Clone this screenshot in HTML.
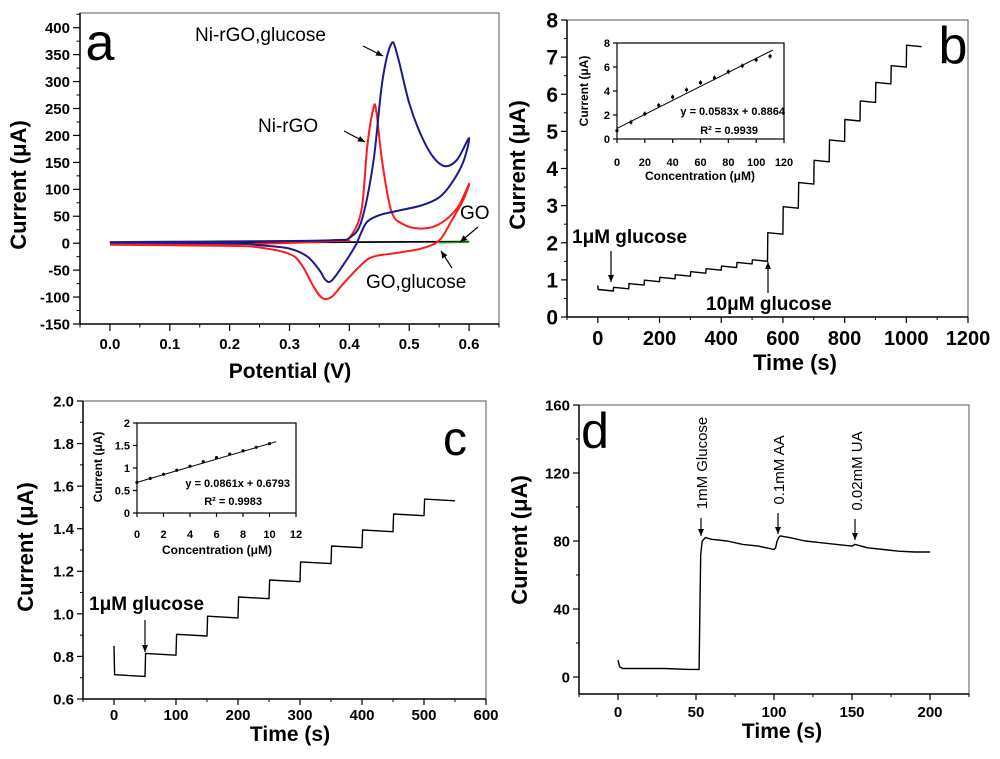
<!DOCTYPE html>
<html><head><meta charset="utf-8"><style>
html,body{margin:0;padding:0;background:#fff}
svg{display:block;font-family:"Liberation Sans",Arial,sans-serif}
</style></head><body>
<svg id="fig" width="1000" height="759" viewBox="0 0 1000 759" xmlns="http://www.w3.org/2000/svg"></svg>
<script>
// ---------- Panel a data (CV) ----------
const aBlueV  = [0,0.15,0.3,0.38,0.40,0.42,0.44,0.455,0.47,0.48,0.5,0.52,0.54,0.56,0.58,0.6,0.59,0.57,0.55,0.52,0.48,0.45,0.43,0.42,0.41,0.39,0.37,0.36,0.35,0.33,0.3,0.25,0.2,0];
const aBlueI  = [2,3,4,6,10,40,150,300,370,350,260,200,160,143,155,195,150,110,85,70,60,52,40,20,-5,-40,-70,-68,-50,-25,-10,-4,0,1];
const aRedV   = [0,0.2,0.38,0.40,0.42,0.43,0.44,0.445,0.455,0.47,0.49,0.52,0.55,0.58,0.6,0.59,0.57,0.55,0.52,0.48,0.44,0.42,0.39,0.37,0.355,0.34,0.32,0.3,0.25,0.2,0];
const aRedI   = [-3,-2,4,10,60,180,250,245,150,60,35,27,35,65,110,80,40,5,-10,-18,-25,-40,-75,-100,-102,-80,-40,-20,-8,-5,-3];
const aGOV    = [0,0.3,0.6];
const aGOI    = [1,1.5,3];
const aGOgV   = [0.55,0.6];
const aGOgI   = [1,2];
const aYTicks = [400,350,300,250,200,150,100,50,0,-50,-100,-150];
const aXTicks = [0.0,0.1,0.2,0.3,0.4,0.5,0.6];
// ---------- Panel b data ----------
const bStepT   = [0,50,100,150,200,250,300,350,400,450,500,550,600,650,700,750,800,850,900,950,1000];
const bStepI   = [0.72,0.78,0.88,0.97,1.05,1.12,1.2,1.28,1.35,1.45,1.52,2.25,2.95,3.6,4.2,4.75,5.3,5.8,6.3,6.75,7.3];
const bEndT    = 1050;
const bStartI  = 0.85;
const bYTicks  = [0,1,2,3,4,5,6,7,8];
const bXTicks  = [0,200,400,600,800,1000,1200];
const bInConc  = [0,10,20,30,40,50,60,70,80,90,100,110];
const bInCur   = [0.7,1.4,2.1,2.8,3.5,4.1,4.7,5.1,5.6,6.1,6.6,6.9];
const bFit     = [0.0583,0.8864];
const bInYT    = [0,2,4,6,8];
const bInXT    = [0,20,40,60,80,100,120];
// ---------- Panel c data ----------
const cStepT   = [0,50,100,150,200,250,300,350,400,450,500];
const cStepI   = [0.71,0.81,0.90,0.985,1.075,1.155,1.24,1.315,1.39,1.465,1.535];
const cEndT    = 550;
const cStartI  = 0.85;
const cYTicks  = [0.6,0.8,1.0,1.2,1.4,1.6,1.8,2.0];
const cXTicks  = [0,100,200,300,400,500,600];
const cInConc  = [0,1,2,3,4,5,6,7,8,9,10];
const cInCur   = [0.68,0.77,0.86,0.95,1.04,1.14,1.23,1.31,1.38,1.46,1.54];
const cFit     = [0.0861,0.6793];
const cInYT    = [0,0.5,1,1.5,2];
const cInYL    = ["0","0.5","1","1.5","2"];
const cInXT    = [0,2,4,6,8,10,12];
// ---------- Panel d data ----------
const dT = [0,1,3,10,30,45,52,52.5,53,54,56,60,70,80,90,100,101,102,103,104,110,120,130,140,150,152,160,170,180,190,200];
const dI = [10,6,5,5,5,4.5,4.5,40,72,80,82,81,80,78,77,75,76,80,82,83,82,80,79,78,77,78,76,75,74,73.5,73.5];
const dYTicks = [0,40,80,120,160];
const dXTicks = [0,50,100,150,200];

const NS="http://www.w3.org/2000/svg";
const svg=document.getElementById('fig');
function mk(tag,attrs,name,parent){
  const e=document.createElementNS(NS,tag);
  for(const k in attrs)e.setAttribute(k,attrs[k]);
  
  
  (parent||svg).appendChild(e);return e;
}
function txt(x,y,s,size,name,opt){
  opt=opt||{};
  const t=mk('text',{x:x,y:y,'font-size':size,'font-weight':opt.w||'bold','text-anchor':opt.a||'middle',fill:'#000'},name,opt.p);
  if(opt.rot)t.setAttribute('transform','rotate('+opt.rot+' '+x+' '+y+')');
  t.textContent=s;return t;
}
function scale(d0,d1,p0,p1){return v=>p0+(v-d0)*(p1-p0)/(d1-d0);}
function frame(L,T,R,B,name,sw){
  mk('rect',{x:L,y:T,width:R-L,height:B-T,fill:'none',stroke:'#555','stroke-width':1},name+'-frame');
  mk('line',{x1:L,y1:T,x2:L,y2:B,stroke:'#000','stroke-width':sw},name+'-y-axis');
  mk('line',{x1:L,y1:B,x2:R,y2:B,stroke:'#000','stroke-width':sw},name+'-x-axis');
}
function yTicks(sy,L,vals,labels,fs,name,minor,len){
  vals.forEach((v,i)=>{
    mk('line',{x1:L-len,y1:sy(v),x2:L,y2:sy(v),stroke:'#000','stroke-width':1.2},name+'-y-tick');
    txt(L-len-3,sy(v)+fs*0.36,labels?labels[i]:String(v),fs,name+'-y-tick-label',{a:'end'});
  });
  (minor||[]).forEach(v=>mk('line',{x1:L-len/2,y1:sy(v),x2:L,y2:sy(v),stroke:'#000','stroke-width':1},name+'-y-minor-tick'));
}
function xTicks(sx,B,vals,labels,fs,ly,name,minor,len){
  vals.forEach((v,i)=>{
    mk('line',{x1:sx(v),y1:B,x2:sx(v),y2:B+len,stroke:'#000','stroke-width':1.2},name+'-x-tick');
    txt(sx(v),ly,labels?labels[i]:String(v),fs,name+'-x-tick-label');
  });
  (minor||[]).forEach(v=>mk('line',{x1:sx(v),y1:B,x2:sx(v),y2:B+len/2,stroke:'#000','stroke-width':1},name+'-x-minor-tick'));
}
function poly(xs,ys,sx,sy,color,w,name){
  const pts=xs.map((x,i)=>sx(x).toFixed(1)+','+sy(ys[i]).toFixed(1)).join(' ');
  return mk('polyline',{points:pts,fill:'none',stroke:color,'stroke-width':w,'stroke-linejoin':'round'},name);
}
function smooth(xs,ys,sx,sy,color,w,name){
  const P=xs.map((x,i)=>[sx(x),sy(ys[i])]);
  let d='M'+P[0][0].toFixed(1)+','+P[0][1].toFixed(1);
  for(let i=0;i<P.length-1;i++){
    const p0=P[Math.max(0,i-1)],p1=P[i],p2=P[i+1],p3=P[Math.min(P.length-1,i+2)];
    const c1=[p1[0]+(p2[0]-p0[0])/6,p1[1]+(p2[1]-p0[1])/6];
    const c2=[p2[0]-(p3[0]-p1[0])/6,p2[1]-(p3[1]-p1[1])/6];
    d+=' C'+c1.map(v=>v.toFixed(1)).join(',')+' '+c2.map(v=>v.toFixed(1)).join(',')+' '+p2[0].toFixed(1)+','+p2[1].toFixed(1);
  }
  return mk('path',{d:d,fill:'none',stroke:color,'stroke-width':w,'stroke-linejoin':'round'},name);
}
function stepPts(T,I,endT,start,dec){
  const xs=[T[0]],ys=[start];
  for(let i=0;i<T.length;i++){
    const t1=(i+1<T.length)?T[i+1]:endT;
    xs.push(T[i]+1);ys.push(I[i]+dec);
    xs.push(t1);ys.push(I[i]-dec);
  }
  return [xs,ys];
}
function arrow(x1,y1,x2,y2,name){
  mk('line',{x1:x1,y1:y1,x2:x2,y2:y2,stroke:'#000','stroke-width':1.2},name);
  const a=Math.atan2(y2-y1,x2-x1),h=7,w=3;
  const p=[[x2,y2],[x2-h*Math.cos(a)+w*Math.sin(a),y2-h*Math.sin(a)-w*Math.cos(a)],[x2-h*Math.cos(a)-w*Math.sin(a),y2-h*Math.sin(a)+w*Math.cos(a)]];
  mk('polygon',{points:p.map(q=>q.join(',')).join(' '),fill:'#000'},name+'-head');
}

// ===== Panel a =====
{
const L=80,T=13,R=499,B=324;
const sx=scale(-0.05,0.65,L,R), sy=scale(-150,400,B,27.7);
frame(L,T,R,B,'panel-a',1.5);
const minY=[];for(let v=-125;v<=425;v+=50)minY.push(v);
yTicks(sy,L,aYTicks,null,15,'panel-a',minY,7);
xTicks(sx,B,aXTicks,aXTicks.map(v=>v.toFixed(1)),15,349,'panel-a',[-0.05,0.05,0.15,0.25,0.35,0.45,0.55,0.65],7);
poly(aGOV,aGOI,sx,sy,'#000',1.8,'go-curve');
poly(aGOgV,aGOgI,sx,sy,'#1a9a1a',1.5,'go-glucose-curve');
smooth(aRedV,aRedI,sx,sy,'#ff1a1a',2,'ni-rgo-curve');
smooth(aBlueV,aBlueI,sx,sy,'#1a1a8c',2,'ni-rgo-glucose-curve');
txt(290,378,'Potential (V)',21,'panel-a-x-title');
txt(26,185,'Current (μA)',22,'panel-a-y-title',{rot:-90});
txt(100,60,'a',52,'panel-a-label',{w:'normal'});
txt(195,41,'Ni-rGO,glucose',19,'label-ni-rgo-glucose',{a:'start',w:'normal'});
arrow(363,46,383,56,'arrow-ni-rgo-glucose');
txt(258,132,'Ni-rGO',19,'label-ni-rgo',{a:'start',w:'normal'});
arrow(344,131,365,142,'arrow-ni-rgo');
txt(460,219,'GO',19,'label-go',{a:'start',w:'normal'});
arrow(478,227,460,242,'arrow-go');
txt(366,288,'GO,glucose',19,'label-go-glucose',{a:'start',w:'normal'});
arrow(452,268,441,251,'arrow-go-glucose');
}
// ===== Panel b =====
{
const L=567,T=20,R=968,B=317;
const sx=scale(-100,1200,L,R), sy=scale(0,8,B,T);
frame(L,T,R,B,'panel-b',1.5);
const mx=[];for(let v=-100;v<=1100;v+=200)mx.push(v);
const my=[];for(let v=0.5;v<8;v+=1)my.push(v);
yTicks(sy,L,bYTicks,null,21,'panel-b',my,6);
xTicks(sx,B,bXTicks,null,20,345,'panel-b',mx,6);
const [xs,ys]=stepPts(bStepT,bStepI,bEndT,bStartI,0.02);
poly(xs,ys,sx,sy,'#000',1.4,'panel-b-amperometric-curve');
txt(795,370,'Time (s)',22,'panel-b-x-title');
txt(525,165,'Current (μA)',22,'panel-b-y-title',{rot:-90});
txt(953,63,'b',52,'panel-b-label',{w:'normal'});
txt(572,243,'1μM glucose',19,'panel-b-1um-label',{a:'start'});
arrow(611,251,611,282,'panel-b-1um-arrow');
txt(706,310,'10μM glucose',19,'panel-b-10um-label',{a:'start'});
arrow(768,293,768,262,'panel-b-10um-arrow');
// inset
const iL=617,iT=43,iR=784,iB=139;
const ix=scale(0,120,iL,iR), iy=scale(0,8,iB,iT);
mk('rect',{x:iL,y:iT,width:iR-iL,height:iB-iT,fill:'#fff',stroke:'#000','stroke-width':1.2},'panel-b-inset-frame');
yTicks(iy,iL,bInYT,null,11,'panel-b-inset',[],4);
xTicks(ix,iB,bInXT,null,11,166,'panel-b-inset',[],4);
poly([0,112],[bFit[1],bFit[0]*112+bFit[1]],ix,iy,'#000',1,'panel-b-fit-line');
bInConc.forEach((c,i)=>{
  mk('circle',{cx:ix(c),cy:iy(bInCur[i]),r:1.6,fill:'#000'},'panel-b-inset-point');
  mk('line',{x1:ix(c),y1:iy(bInCur[i]+0.2),x2:ix(c),y2:iy(bInCur[i]-0.2),stroke:'#000','stroke-width':0.8},'panel-b-inset-errorbar');
});
txt(700,180,'Concentration (μM)',12,'panel-b-inset-x-title');
txt(588,91,'Current (μA)',12,'panel-b-inset-y-title',{rot:-90});
txt(785,115,'y = 0.0583x + 0.8864',11,'panel-b-fit-equation',{a:'end'});
txt(758,134,'R² = 0.9939',11,'panel-b-r2',{a:'end'});
}
// ===== Panel c =====
{
const L=83,T=401,R=486,B=699;
const sx=scale(-50,600,L,R), sy=scale(0.6,2.0,B,T);
frame(L,T,R,B,'panel-c',1.5);
const mx=[];for(let v=-50;v<=550;v+=100)mx.push(v);
const my=[];for(let v=0.7;v<2;v+=0.2)my.push(v);
yTicks(sy,L,cYTicks,cYTicks.map(v=>v.toFixed(1)),15,'panel-c',my,6);
xTicks(sx,B,cXTicks,null,15,720,'panel-c',mx,6);
const [xs,ys]=stepPts(cStepT,cStepI,cEndT,cStartI,0.004);
poly(xs,ys,sx,sy,'#000',1.4,'panel-c-amperometric-curve');
txt(290,741,'Time (s)',21,'panel-c-x-title');
txt(33,547,'Current (μA)',22,'panel-c-y-title',{rot:-90});
txt(455,455,'c',48,'panel-c-label',{w:'normal'});
txt(89,610,'1μM glucose',19,'panel-c-1um-label',{a:'start'});
arrow(145,620,145,652,'panel-c-1um-arrow');
const iL=137,iT=423,iR=296,iB=513;
const ix=scale(0,12,iL,iR), iy=scale(0,2,iB,iT);
mk('rect',{x:iL,y:iT,width:iR-iL,height:iB-iT,fill:'#fff',stroke:'#000','stroke-width':1.2},'panel-c-inset-frame');
yTicks(iy,iL,cInYT,cInYL,11,'panel-c-inset',[],4);
xTicks(ix,iB,cInXT,null,11,538,'panel-c-inset',[],4);
poly([0,10.5],[cFit[1],cFit[0]*10.5+cFit[1]],ix,iy,'#000',1,'panel-c-fit-line');
cInConc.forEach((c,i)=>mk('circle',{cx:ix(c),cy:iy(cInCur[i]),r:1.6,fill:'#000'},'panel-c-inset-point'));
txt(217,554,'Concentration (μM)',12,'panel-c-inset-x-title');
txt(102,467,'Current (μA)',12,'panel-c-inset-y-title',{rot:-90});
txt(290,487,'y = 0.0861x + 0.6793',11,'panel-c-fit-equation',{a:'end'});
txt(262,505,'R² = 0.9983',11,'panel-c-r2',{a:'end'});
}
// ===== Panel d =====
{
const L=579,T=405,R=969,B=694;
const sx=scale(-25,225,L,R), sy=scale(-10,160,B,T);
frame(L,T,R,B,'panel-d',1.5);
yTicks(sy,L,dYTicks,null,15,'panel-d',[20,60,100,140],6);
xTicks(sx,B,dXTicks,null,15,717,'panel-d',[-25,25,75,125,175,225],6);
poly(dT,dI,sx,sy,'#000',1.4,'panel-d-amperometric-curve');
txt(782,738,'Time (s)',21,'panel-d-x-title');
txt(527,540,'Current (μA)',22,'panel-d-y-title',{rot:-90});
txt(595,448,'d',50,'panel-d-label',{w:'normal'});
txt(707,463,'1mM Glucose',15,'label-1mm-glucose',{rot:-90,w:'normal'});
arrow(701,518,701,536,'arrow-glucose');
txt(784,470,'0.1mM AA',15,'label-0-1mm-aa',{rot:-90,w:'normal'});
arrow(778,513,778,534,'arrow-aa');
txt(862,471,'0.02mM UA',15,'label-0-02mm-ua',{rot:-90,w:'normal'});
arrow(855,519,855,540,'arrow-ua');
}
</script>
</body></html>
